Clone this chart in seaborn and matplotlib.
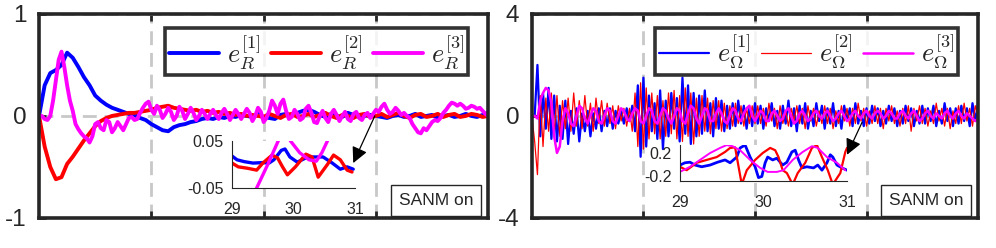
import numpy as np
import matplotlib
matplotlib.use("Agg")
import matplotlib.pyplot as plt
import seaborn as sns

sns.set_theme(style="white")
plt.rcParams["font.family"] = ["Liberation Sans", "DejaVu Sans"]
plt.rcParams["mathtext.fontset"] = "cm"

# ---------------------------------------------------------
# Data (time in s)
# ---------------------------------------------------------
# left panel: e_R, blue/red sampled every 0.5 s, magenta every 0.25 s
eR1 = [0.0, 0.3, 0.42, 0.45, 0.5, 0.62, 0.57, 0.48,
       0.38, 0.3, 0.2, 0.15, 0.11, 0.08, 0.06, 0.04,
       0.02, 0.01, -0.02, -0.04, -0.08, -0.11, -0.14, -0.15,
       -0.11, -0.09, -0.08, -0.06, -0.05, -0.03, -0.02, -0.03,
       -0.01, -0.02, 0.0, -0.01, 0.01, 0.0, -0.01, 0.02,
       -0.01, -0.02, -0.03, 0.01, 0.02, 0.0, 0.03, 0.05,
       0.06, 0.04, 0.01, -0.01, 0.02, 0.0, -0.01, 0.03,
       0.01, -0.01, 0.0, 0.01, 0.0, -0.01, -0.02, 0.0,
       0.01, -0.01, 0.0, 0.02, -0.01, 0.0, 0.01, -0.02,
       0.0, 0.01, -0.01, 0.0, 0.02, 0.0, -0.01, 0.01,
       0.03]
eR2 = [0.0, -0.3, -0.5, -0.62, -0.6, -0.47, -0.4, -0.32,
       -0.24, -0.17, -0.1, -0.05, -0.02, 0.0, 0.01, 0.02,
       0.03, 0.03, 0.04, 0.05, 0.06, 0.08, 0.09, 0.1,
       0.08, 0.07, 0.06, 0.05, 0.06, 0.04, 0.05, 0.03,
       0.04, 0.02, 0.03, 0.01, 0.02, 0.0, 0.01, 0.0,
       -0.01, 0.02, 0.0, -0.02, 0.01, 0.02, -0.01, 0.0,
       0.02, -0.01, 0.01, 0.03, 0.0, -0.02, 0.01, 0.0,
       -0.02, 0.01, 0.02, -0.01, 0.0, 0.02, -0.01, 0.01,
       0.03, 0.0, -0.02, 0.01, 0.02, -0.01, 0.0, 0.02,
       -0.01, 0.01, 0.02, -0.01, 0.0, 0.02, 0.01, -0.01,
       0.0]
eR3 = [0.0, 0.0, -0.03, -0.04, 0.0, 0.15, 0.35, 0.55,
       0.63, 0.48, 0.3, 0.15, 0.05, -0.08, -0.13, -0.17,
       -0.2, -0.22, -0.26, -0.2, -0.08, -0.06, -0.12, -0.14,
       -0.04, -0.06, -0.16, -0.12, -0.06, -0.1, -0.14, -0.08,
       -0.02, -0.01, -0.04, -0.03, 0.03, 0.08, 0.12, 0.14,
       0.06, 0.02, 0.1, 0.06, -0.02, 0.02, 0.08, 0.04,
       -0.04, 0.0, 0.09, 0.05, -0.03, 0.02, 0.08, 0.03,
       -0.04, 0.0, 0.06, 0.02, -0.03, 0.02, 0.06, 0.01,
       -0.03, 0.03, 0.07, 0.02, -0.04, 0.01, 0.06, 0.02,
       -0.03, 0.02, 0.07, 0.03, -0.05, 0.0, 0.08, 0.04,
       -0.06, -0.02, 0.05, 0.15, 0.1, 0.02, 0.12, 0.16,
       0.05, -0.03, -0.01, 0.06, 0.02, -0.04, -0.02, 0.07,
       0.1, 0.03, -0.06, -0.07, 0.0, 0.05, -0.02, -0.06,
       0.02, 0.06, 0.01, -0.05, 0.0, 0.04, -0.03, -0.05,
       0.02, 0.04, -0.02, -0.04, 0.01, 0.03, -0.02, 0.02,
       0.06, 0.04, 0.09, 0.12, 0.06, 0.02, 0.04, 0.08,
       0.05, 0.01, 0.03, 0.0, -0.02, -0.08, -0.12, -0.16,
       -0.17, -0.12, -0.14, -0.1, -0.06, -0.04, -0.05, -0.02,
       0.03, 0.06, 0.1, 0.13, 0.12, 0.1, 0.12, 0.1,
       0.07, 0.08, 0.1, 0.09, 0.07, 0.08, 0.05, 0.02,
       0.0]

# right panel: e_Omega, every 0.25 s
eW1 = [0.0, 0.0, 2.0, -0.8, 0.9, -0.5, 1.1, -0.9,
       0.8, -1.0, 0.4, -0.9, 0.6, -1.1, 0.2, -0.7,
       0.3, -1.0, 0.1, -0.6, 0.2, -0.8, 0.1, -0.5,
       0.3, -0.6, 0.2, -0.4, 0.3, -0.5, 0.2, -0.3,
       0.2, -0.3, 0.3, -0.2, 0.4, -0.6, 1.2, -1.6,
       1.5, -1.2, 0.8, -0.6, 0.5, -0.9, 1.0, -1.3,
       0.6, -0.8, 0.9, -0.5, 0.7, -1.0, 1.5, -0.7,
       1.2, -1.1, 0.9, -0.8, 0.8, -0.7, 1.0, -0.6,
       0.5, -0.8, 0.7, -0.5, 0.6, -0.6, 0.4, -0.5,
       0.5, -0.4, 0.6, -0.3, 0.4, -0.5, 0.3, -0.4,
       0.5, -0.3, 0.4, -0.5, 0.3, -0.2, 0.5, -0.4,
       0.2, -0.5, 0.4, -0.3, 0.6, -0.4, 0.3, -0.6,
       0.4, -0.3, 0.5, -0.5, 0.2, -0.4, 0.5, -0.2,
       0.4, -0.5, 0.3, -0.3, 0.5, -0.4, 0.2, -0.5,
       0.4, -0.2, 0.3, -0.4, 0.5, -0.3, 0.2, -0.4,
       0.3, -0.3, 0.4, -0.2, 0.3, -0.4, 0.2, -0.3,
       0.4, -0.2, 0.3, -0.4, 0.2, -0.3, 0.4, -0.2,
       0.3, -0.4, 0.2, -0.3, 0.4, -0.3, 0.3, -0.2,
       0.4, -0.4, 0.2, -0.3, 0.5, -0.2, 0.3, -0.4,
       0.3, -0.3, 0.4, -0.2, 0.3, -0.4, 0.5, -0.2,
       0.5]
eW2 = [0.0, -1.0, -2.3, 0.8, -1.2, 0.7, -0.6, 0.9,
       -0.7, 0.8, -0.8, 0.6, -0.5, 0.7, -0.6, 0.9,
       -0.4, 0.6, -0.5, 0.8, -0.4, 0.5, -0.6, 0.7,
       -0.3, 0.6, -0.4, 0.5, -0.3, 0.4, -0.5, 0.4,
       -0.2, 0.3, -0.4, 0.3, -0.6, 0.9, -1.2, 1.3,
       -1.3, 1.1, -0.9, 0.9, -0.7, 0.8, -0.9, 0.6,
       -0.8, 0.9, -0.7, 1.0, -0.9, 0.8, -1.0, 1.1,
       -0.8, 0.9, -1.1, 0.7, -0.8, 0.8, -0.6, 0.7,
       -0.7, 0.6, -0.5, 0.6, -0.6, 0.5, -0.5, 0.4,
       -0.4, 0.5, -0.3, 0.4, -0.4, 0.3, -0.3, 0.4,
       -0.3, 0.4, -0.3, 0.3, -0.4, 0.5, -0.2, 0.3,
       -0.5, 0.4, -0.3, 0.2, -0.4, 0.3, -0.2, 0.4,
       -0.3, 0.3, -0.5, 0.4, -0.2, 0.3, -0.4, 0.2,
       -0.3, 0.4, -0.3, 0.3, -0.5, 0.2, -0.3, 0.4,
       -0.2, 0.3, -0.4, 0.3, -0.3, 0.5, -0.2, 0.3,
       -0.4, 0.2, -0.3, 0.4, -0.3, 0.3, -0.5, 0.3,
       -0.2, 0.4, -0.3, 0.2, -0.4, 0.3, -0.3, 0.4,
       -0.6, 0.3, -0.2, 0.4, -0.3, 0.3, -0.4, 0.2,
       -0.3, 0.5, -0.2, 0.3, -0.4, 0.3, -0.5, 0.2,
       -0.3, 0.4, -0.3, 0.5, -0.2, 0.3, -0.4, 0.4,
       0.0]
eW3 = [0.0, 0.0, -0.1, 0.6, 0.9, 1.1, 1.0, 0.5,
       -0.8, -1.45, -1.2, -0.2, 0.3, 0.1, -0.3, -0.4,
       0.0, 0.4, 0.3, -0.1, -0.3, 0.0, 0.3, 0.2,
       -0.2, -0.3, 0.0, 0.3, 0.2, -0.2, -0.3, 0.0,
       0.3, 0.2, -0.1, -0.2, 0.1, 0.3, 0.2, -0.2,
       -0.3, 0.0, 0.3, 0.2, -0.2, -0.3, 0.0, 0.3,
       0.2, -0.1, -0.3, 0.0, 0.3, 0.2, -0.2, -0.3,
       0.1, 0.4, 0.3, -0.1, -0.3, 0.0, 0.3, 0.2,
       -0.2, -0.2, 0.1, 0.3, 0.1, -0.2, -0.3, 0.0,
       0.3, 0.2, -0.1, -0.2, 0.1, 0.3, 0.4, 0.0,
       -0.2, 0.0, 0.2, 0.1, -0.2, -0.2, 0.1, 0.2,
       0.0, -0.2, -0.1, 0.2, 0.3, 0.0, -0.3, -0.2,
       0.1, 0.2, 0.0, -0.2, -0.1, 0.1, 0.2, 0.0,
       -0.1, 0.1, 0.2, 0.0, -0.2, -0.1, 0.1, 0.2,
       0.0, -0.2, -0.1, 0.1, 0.2, 0.0, -0.1, 0.1,
       0.2, 0.0, -0.1, 0.1, 0.2, 0.1, -0.1, 0.0,
       0.2, 0.1, -0.1, -0.1, 0.1, 0.2, 0.0, -0.1,
       0.1, 0.2, 0.0, -0.2, -0.1, 0.1, 0.2, 0.0,
       -0.1, 0.1, 0.0, -0.1, 0.1, 0.2, 0.0, -0.1,
       0.1, 0.2, 0.0, -0.1, 0.1, 0.0, -0.1, -0.2,
       -0.1]

# zoomed windows (29-31 s)
zR1_t = [29.0, 29.08, 29.2, 29.34, 29.5, 29.6, 29.68, 29.74, 29.8, 29.86,
         29.94, 30.06, 30.2, 30.32, 30.48, 30.63, 30.76, 30.87, 30.97]
zR1 = [0.018, 0.01, 0.006, 0.003, 0.004, 0.003, 0.01, 0.02, 0.03, 0.033,
       0.016, 0.005, 0.014, 0.016, 0.016, 0.003, -0.01, -0.005, -0.01]
zR2_t = [29.0, 29.1, 29.25, 29.4, 29.5, 29.65, 29.74, 29.82, 29.9, 30.03,
         30.2, 30.3, 30.4, 30.55, 30.65, 30.76, 30.87, 30.95]
zR2 = [0.003, -0.005, -0.008, -0.012, 0.003, 0.02, 0.014, -0.005, -0.022, -0.005,
       0.022, 0.016, -0.027, 0.0, 0.02, 0.01, -0.012, -0.016]
zR3_t = [29.25, 29.4, 29.58, 29.75, 29.85, 29.95, 30.1, 30.25, 30.37, 30.46,
         30.55, 30.65]
zR3 = [-0.1, -0.05, 0.0, 0.05, 0.08, 0.05, 0.025, 0.01, 0.007, 0.025,
       0.05, 0.08]

zW1_t = [29.0, 29.06, 29.12, 29.18, 29.26, 29.36, 29.45, 29.54, 29.6, 29.68,
         29.72, 29.78, 29.84, 29.9, 29.94, 29.98, 30.02, 30.05, 30.11, 30.16,
         30.2, 30.23, 30.28, 30.34, 30.38, 30.42, 30.46, 30.52, 30.6, 30.65,
         30.7, 30.76, 30.8, 30.83, 30.88, 30.94, 31.0]
zW1 = [-0.01, 0.03, 0.04, -0.01, -0.04, -0.01, 0.04, 0.08, 0.03, 0.13,
       0.29, 0.34, 0.13, -0.04, -0.23, -0.21, 0.03, 0.13, 0.08, 0.11,
       0.04, -0.01, 0.04, 0.22, 0.25, 0.08, -0.06, -0.04, -0.06, -0.01,
       -0.1, 0.03, 0.17, 0.13, -0.01, -0.06, -0.1]
zW2_t = [29.0, 29.08, 29.2, 29.32, 29.44, 29.54, 29.6, 29.66, 29.74, 29.8,
         29.9, 29.99, 30.08, 30.14, 30.18, 30.23, 30.28, 30.35, 30.41, 30.5,
         30.58, 30.64, 30.7, 30.77, 30.83, 30.92, 30.98, 31.0]
zW2 = [-0.04, -0.1, 0.03, 0.08, 0.13, 0.22, 0.29, 0.3, -0.35, -0.1,
       0.08, 0.2, 0.29, 0.25, 0.13, -0.1, -0.15, -0.35, -0.15, 0.03,
       0.29, 0.34, 0.13, -0.1, -0.35, -0.15, 0.22, 0.29]
zW3_t = [29.0, 29.12, 29.24, 29.36, 29.48, 29.56, 29.63, 29.72, 29.84, 29.96,
         30.05, 30.16, 30.24, 30.35, 30.47, 30.58, 30.65, 30.76, 30.88, 30.98]
zW3 = [-0.13, -0.04, 0.08, 0.2, 0.29, 0.34, 0.32, 0.25, 0.08, -0.06,
       -0.13, -0.13, -0.1, 0.08, 0.22, 0.32, 0.29, 0.13, 0.03, -0.1]

BLUE, RED, MAG = "#0000ff", "#ff0000", "#ff00ff"
FRAME = "#262626"


def series_time(vals, dt):
    return np.arange(len(vals)) * dt


def style_main(ax, lim):
    ax.set_xlim(0, 40)
    ax.set_ylim(-lim, lim)
    ax.set_xticks([10, 20, 30])
    ax.set_xticklabels([])
    ax.set_yticks([-lim, 0, lim])
    ax.set_yticklabels([f"{-lim:g}", "0", f"{lim:g}"])
    ax.tick_params(direction="in", length=5, width=2, color=FRAME,
                   top=True, bottom=True, left=True, right=False,
                   labelsize=17.5, pad=9)
    ax.grid(True, color="#c8c8c8", linewidth=2.0, linestyle=(0, (5, 2.8)))
    ax.set_axisbelow(True)
    for s in ax.spines.values():
        s.set_linewidth(2.6)
        s.set_color(FRAME)
    ax.set_xlabel("")
    ax.set_ylabel("")


def style_inset(ax, ylim, yt, ytl):
    ax.set_xlim(29, 31)
    ax.set_ylim(*ylim)
    ax.set_xticks([29, 30, 31])
    ax.set_xticklabels(["29", "30", "31"])
    ax.set_yticks(yt)
    ax.set_yticklabels(ytl)
    ax.tick_params(direction="in", length=3, width=0.8, color=FRAME,
                   labelsize=11.5, pad=3)
    ax.tick_params(axis="x", pad=10)
    ax.tick_params(axis="y", pad=6)
    for k in ["top", "right"]:
        ax.spines[k].set_visible(False)
    for k in ["left", "bottom"]:
        ax.spines[k].set_linewidth(0.8)
        ax.spines[k].set_color(FRAME)
    ax.set_xlabel("")
    ax.set_ylabel("")


fig = plt.figure(figsize=(9.96, 2.48), dpi=100)
axL = fig.add_axes([0.0392, 0.121, 0.451, 0.823])
axR = fig.add_axes([0.534, 0.121, 0.448, 0.823])

# ---------------- left: e_R ----------------
sns.lineplot(x=series_time(eR1, 0.5), y=eR1, ax=axL, color=BLUE, linewidth=2.8,
             label=r"$e_R^{[1]}$")
sns.lineplot(x=series_time(eR2, 0.5), y=eR2, ax=axL, color=RED, linewidth=2.8,
             label=r"$e_R^{[2]}$")
sns.lineplot(x=series_time(eR3, 0.25), y=eR3, ax=axL, color=MAG, linewidth=2.8,
             label=r"$e_R^{[3]}$")
style_main(axL, 1)

# ---------------- right: e_Omega ----------------
sns.lineplot(x=series_time(eW1, 0.25), y=eW1, ax=axR, color=BLUE, linewidth=1.6,
             label=r"$e_\Omega^{[1]}$")
sns.lineplot(x=series_time(eW2, 0.25), y=eW2, ax=axR, color=RED, linewidth=0.9,
             label=r"$e_\Omega^{[2]}$")
sns.lineplot(x=series_time(eW3, 0.25), y=eW3, ax=axR, color=MAG, linewidth=1.8,
             label=r"$e_\Omega^{[3]}$")
style_main(axR, 4)

for ax in (axL, axR):
    leg = ax.legend(loc="upper right", bbox_to_anchor=(0.955, 0.931), ncol=3,
                    fontsize=19, frameon=True, fancybox=False, borderaxespad=0,
                    handlelength=1.9, handletextpad=0.3, columnspacing=0.4,
                    borderpad=0.15)
    leg.get_frame().set_edgecolor("black")
    leg.get_frame().set_linewidth(2.6)
    ax.text(0.884, 0.085, "SANM on", transform=ax.transAxes, ha="center",
            va="center", fontsize=12.5,
            bbox=dict(boxstyle="square,pad=0.45", facecolor="white",
                      edgecolor=FRAME, linewidth=1.0))

# ---------------- insets ----------------
inL = fig.add_axes([0.233, 0.242, 0.1235, 0.1895])
sns.lineplot(x=zR1_t, y=zR1, ax=inL, color=BLUE, linewidth=2.4)
sns.lineplot(x=zR2_t, y=zR2, ax=inL, color=RED, linewidth=2.4)
sns.lineplot(x=zR3_t, y=zR3, ax=inL, color=MAG, linewidth=2.4)
style_inset(inL, (-0.05, 0.05), [-0.05, 0.05], ["-0.05", "0.05"])

inR = fig.add_axes([0.6827, 0.270, 0.1677, 0.145])
sns.lineplot(x=zW1_t, y=zW1, ax=inR, color=BLUE, linewidth=2.0)
sns.lineplot(x=zW2_t, y=zW2, ax=inR, color=RED, linewidth=1.6)
sns.lineplot(x=zW3_t, y=zW3, ax=inR, color=MAG, linewidth=1.4)
style_inset(inR, (-0.29, 0.34), [-0.2, 0.2], ["-0.2", "0.2"])

# arrows from the main curves to the zoomed windows
arrow = dict(arrowstyle="-|>", color="black", lw=0.9, mutation_scale=24,
             shrinkA=0, shrinkB=0)
inL.annotate("", xy=(30.97, 0.003), xycoords="data",
             xytext=(29.9, 0.0), textcoords=axL.transData, arrowprops=arrow,
             annotation_clip=False)
inR.annotate("", xy=(31.0, 0.17), xycoords="data",
             xytext=(29.6, -0.25), textcoords=axR.transData, arrowprops=arrow,
             annotation_clip=False)

fig.savefig("out.png", dpi=100)
